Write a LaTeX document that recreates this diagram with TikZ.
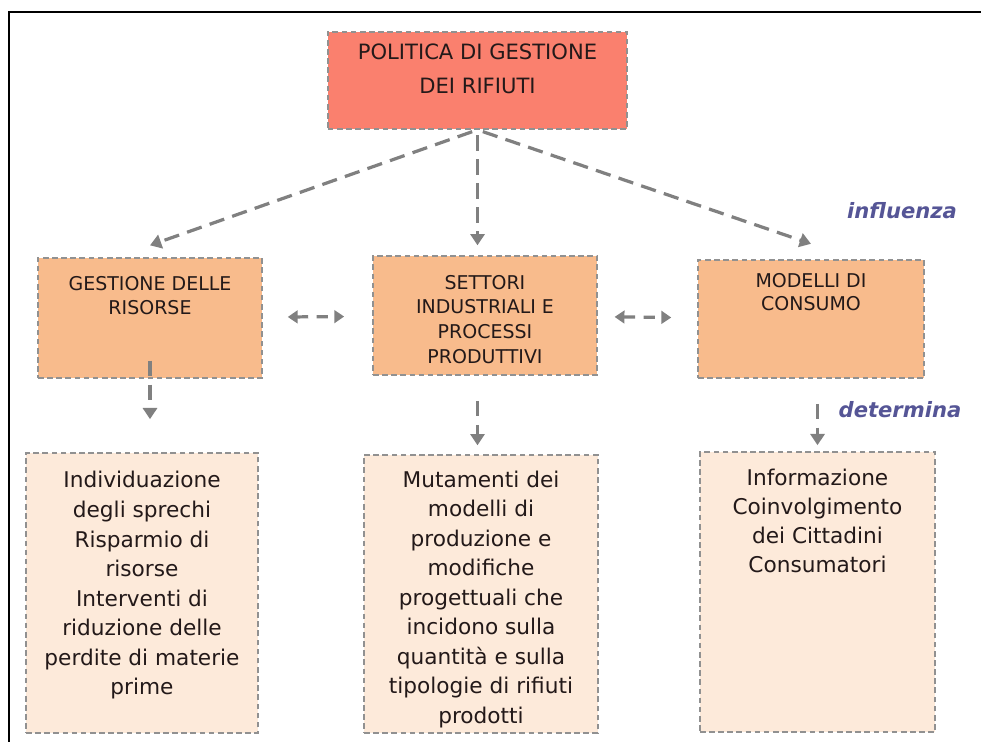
\documentclass[tikz,border=0pt]{standalone}
\usepackage{fontspec}
\setmainfont{DejaVu Sans}
\usetikzlibrary{arrows.meta,positioning}
\definecolor{salmone}{RGB}{250,128,110}
\definecolor{pesca}{RGB}{248,187,140}
\definecolor{crema}{RGB}{253,234,218}
\definecolor{bordo}{RGB}{145,145,145}
\definecolor{grigiofr}{RGB}{128,128,128}
\definecolor{notacol}{RGB}{85,85,150}
\definecolor{scritta}{RGB}{35,25,25}

\begin{document}
\begin{tikzpicture}[
  x=0.025cm, y=-0.025cm,
  box/.style={draw=bordo, dash pattern=on 4pt off 2.5pt, line width=1pt,
              inner sep=0pt},
  capo/.style={box, fill=salmone, minimum width=7.48cm, minimum height=2.43cm},
  ramo/.style={box, fill=pesca, minimum height=3cm},
  foglia/.style={box, fill=crema, minimum height=7cm},
  testo/.style={align=center, inner sep=0pt, text=scritta},
  freccia/.style={draw=grigiofr, line width=2.3pt, dash pattern=on 11pt off 6pt,
                  -{Triangle[width=10pt,length=8pt]}},
  doppia/.style={freccia, dash pattern=on 8pt off 6pt,
                 {Triangle[width=9pt,length=7pt]}-{Triangle[width=9pt,length=7pt]}},
  nota/.style={font=\fontsize{15}{17}\selectfont\bfseries\itshape, text=notacol}
]
\useasboundingbox (0,0) rectangle (981,742);
\draw[line width=1.5pt] (9,742) -- (9,12) -- (981,12);

% caselle
\node[capo] (politica) at (477.5,80.5) {};
\node[ramo, minimum width=5.6cm] (gestione) at (150,318) {};
\node[ramo, minimum width=5.6cm, minimum height=2.98cm] (settori) at (485,315.5) {};
\node[ramo, minimum width=5.65cm, minimum height=2.95cm] (modelli) at (811,319) {};
\node[foglia, minimum width=5.8cm] (individ) at (142,593) {};
\node[foglia, minimum width=5.85cm, minimum height=6.95cm] (mutam) at (481,594) {};
\node[foglia, minimum width=5.88cm] (inform) at (817.5,592) {};

% testi
\node[testo, font=\fontsize{15}{24}\selectfont, below=9pt of politica.north]
  (politica-t) {POLITICA DI GESTIONE\\DEI RIFIUTI};
\node[testo, font=\fontsize{13.5}{17}\selectfont, below=13.5pt of gestione.north]
  (gestione-t) {GESTIONE DELLE\\RISORSE};
\node[testo, font=\fontsize{13.5}{17.5}\selectfont, below=14pt of settori.north]
  (settori-t) {SETTORI\\INDUSTRIALI E\\PROCESSI\\PRODUTTIVI};
\node[testo, font=\fontsize{13.5}{17}\selectfont, below=9.5pt of modelli.north]
  (modelli-t) {MODELLI DI\\CONSUMO};
\node[testo, font=\fontsize{15.4}{21}\selectfont, below=13.5pt of individ.north]
  (individ-t) {Individuazione\\degli sprechi\\Risparmio di\\risorse\\Interventi di\\riduzione delle\\perdite di materie\\prime};
\node[testo, font=\fontsize{15.4}{21}\selectfont, below=11.5pt of mutam.north]
  (mutam-t) {Mutamenti dei\\modelli di\\produzione e\\modifiche\\progettuali che\\incidono sulla\\quantità e sulla\\tipologie di rifiuti\\prodotti};
\node[testo, font=\fontsize{15.4}{20.5}\selectfont, below=12.5pt of inform.north]
  (inform-t) {Informazione\\Coinvolgimento\\dei Cittadini\\Consumatori};

% etichette
\node[nota] (influenza) at (902,211) {influenza};
\node[nota] (determina) at (900,410) {determina};

% frecce
\draw[freccia, shorten <=4pt] (politica.south) -- ([yshift=8.5pt]gestione.north);
\draw[freccia, shorten <=4pt, shorten >=7pt] (politica.south) -- (politica.south |- settori.north);
\draw[freccia, shorten <=4pt] (politica.south) -- ([yshift=11pt]modelli.north);
\draw[doppia, shorten <=17.8pt, shorten >=20pt] (gestione) -- (settori);
\draw[doppia, shorten <=12pt, shorten >=18.5pt] (settori) -- (modelli);
\draw[freccia, shorten <=-12.8pt, shorten >=23.5pt] (gestione.south) -- (gestione.south |- individ.north);
\draw[freccia, shorten <=17.8pt, shorten >=6.4pt] (politica.south |- settori.south) -- (politica.south |- mutam.north);
\draw[freccia, shorten <=17.8pt, shorten >=4.3pt] (inform.north |- modelli.south) -- (inform.north);
\end{tikzpicture}
\end{document}
